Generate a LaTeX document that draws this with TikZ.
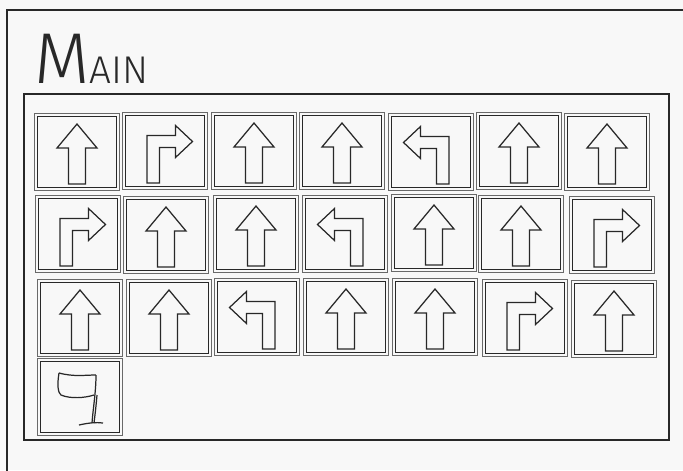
\documentclass[tikz,border=0pt]{standalone}
\usepackage{fontspec}
\setmainfont{Fira Sans}[UprightFont=* Light]
\usetikzlibrary{positioning}
\definecolor{pgBg}{RGB}{248,248,248}
\definecolor{pgInk}{RGB}{40,40,40}
\definecolor{pgGrey}{RGB}{105,105,105}
\tikzset{
  frame/.style={draw=pgInk, line width=1.4pt},
  tile/.style={draw=pgGrey, line width=0.85pt, minimum width=1.7cm, minimum height=1.54cm, inner sep=0pt},
  sign/.style={draw=pgInk, line width=0.7pt, line join=miter},
  rim/.style={draw=pgInk, line width=0.85pt},
  pics/up/.style={code={
    \draw[rim] (-39.5,-35.5) rectangle (39.5,35.5);
    \draw[sign] (0,-28) -- (20,-4) -- (8.5,-4) -- (8.5,32) -- (-8.5,32) -- (-8.5,-4) -- (-20,-4) -- cycle;
  }},
  pics/right/.style={code={
    \draw[rim] (-39.5,-35.5) rectangle (39.5,35.5);
    \draw[sign] (-18,32) -- (-18,-15.5) -- (10.5,-15.5) -- (10.5,-25.5) -- (27.5,-9.5) -- (10.5,6.5) -- (10.5,-3.5) -- (-5.5,-3.5) -- (-5.5,32) -- cycle;
  }},
  pics/left/.style={code={
    \draw[rim] (-39.5,-35.5) rectangle (39.5,35.5);
    \draw[sign, xscale=-1] (-18,32) -- (-18,-15.5) -- (10.5,-15.5) -- (10.5,-25.5) -- (27.5,-9.5) -- (10.5,6.5) -- (10.5,-3.5) -- (-5.5,-3.5) -- (-5.5,32) -- cycle;
  }},
  pics/loopsign/.style={code={
    \draw[rim] (-39.5,-35.5) rectangle (39.5,35.5);
    \draw[sign] (-21,-24) .. controls (-6,-20) and (5,-22) .. (16,-22);
    \draw[sign] (-21,-24) .. controls (-23,-12) and (-22,-4) .. (-19,-2) .. controls (-10,2) and (5,1) .. (14,-2);
    \draw[sign] (16,-22) .. controls (16,-5) and (13,12) .. (12,26);
    \draw[sign] (17,-2) .. controls (16,10) and (15,18) .. (14,26);
    \draw[sign] (-1,28) .. controls (8,26) and (16,25) .. (23,26);
  }},
}

\begin{document}
\begin{tikzpicture}[x=0.02cm, y=-0.02cm]
    \useasboundingbox (0,0) rectangle (683,470);
    \fill[pgBg] (0,0) rectangle (683,470);
    \clip (0,0) rectangle (683,470);

    % outer panel and program area
    \draw[frame] (7,10) rectangle (720,500);
    \node[anchor=base west, inner sep=0pt, text=pgInk] (title) at (34,83) {%
    {\fontsize{41}{41}\selectfont M}{\fontsize{22}{22}\selectfont AIN}};
    \draw[frame] (24,94) rectangle (669,440);

    % row 1
    \node[tile] (r1c1) at (77,152) {};  \pic at (r1c1) {up};
    \node[tile] (r1c2) at (165,151) {}; \pic at (r1c2) {right};
    \node[tile] (r1c3) at (254,151) {}; \pic at (r1c3) {up};
    \node[tile] (r1c4) at (342,151) {}; \pic at (r1c4) {up};
    \node[tile] (r1c5) at (431,152) {}; \pic at (r1c5) {left};
    \node[tile] (r1c6) at (519,151) {}; \pic at (r1c6) {up};
    \node[tile] (r1c7) at (607,152) {}; \pic at (r1c7) {up};

    % row 2
    \node[tile] (r2c1) at (78,234) {};  \pic at (r2c1) {right};
    \node[tile] (r2c2) at (166,235) {}; \pic at (r2c2) {up};
    \node[tile] (r2c3) at (256,234) {}; \pic at (r2c3) {up};
    \node[tile] (r2c4) at (345,234) {}; \pic at (r2c4) {left};
    \node[tile] (r2c5) at (434,233) {}; \pic at (r2c5) {up};
    \node[tile] (r2c6) at (521,234) {}; \pic at (r2c6) {up};
    \node[tile] (r2c7) at (612,235) {}; \pic at (r2c7) {right};

    % row 3
    \node[tile] (r3c1) at (80,318) {};  \pic at (r3c1) {up};
    \node[tile] (r3c2) at (169,318) {}; \pic at (r3c2) {up};
    \node[tile] (r3c3) at (257,317) {}; \pic at (r3c3) {left};
    \node[tile] (r3c4) at (346,317) {}; \pic at (r3c4) {up};
    \node[tile] (r3c5) at (435,317) {}; \pic at (r3c5) {up};
    \node[tile] (r3c6) at (525,318) {}; \pic at (r3c6) {right};
    \node[tile] (r3c7) at (614,319) {}; \pic at (r3c7) {up};

    % row 4
    \node[tile] (r4c1) at (80,397) {};  \pic at (r4c1) {loopsign};
\end{tikzpicture}
\end{document}
